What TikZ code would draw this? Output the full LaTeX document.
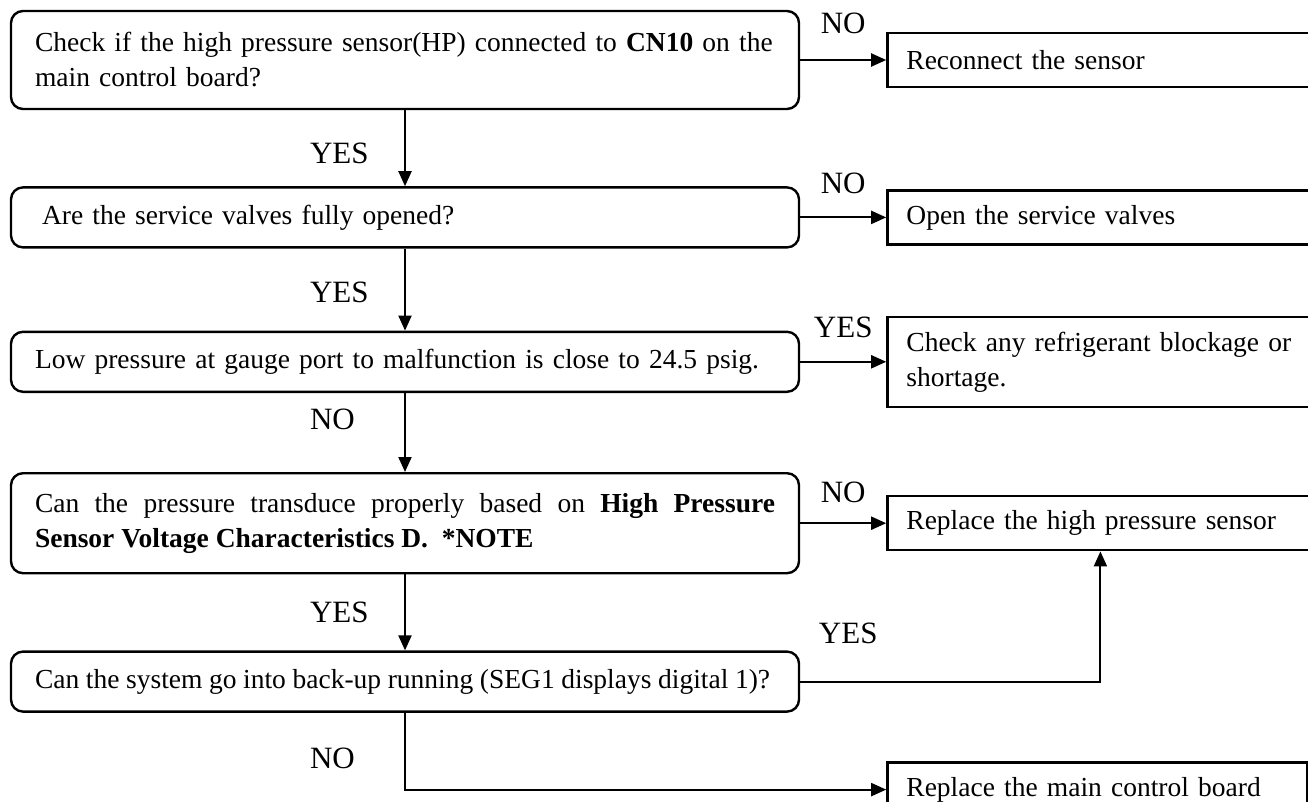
\documentclass[tikz,border=0pt]{standalone}
\usepackage{fontspec}
\setmainfont{Liberation Serif}
\usepackage{xcolor}
\definecolor{ink}{HTML}{000000}
\usepackage{tikz}
\usetikzlibrary{arrows.meta,positioning}
\tikzset{>={Triangle[length=15pt,width=13pt]},
  qbox/.style={draw=ink,line width=2.4pt,rounded corners=12pt,text width=740pt,
    inner xsep=24pt,inner ysep=0pt,align=left,minimum height=60pt,
    font=\fontsize{27.5}{35}\selectfont},
  abox/.style={draw=ink,line width=2.4pt,text width=388pt,inner xsep=19pt,
    inner ysep=0pt,align=left,minimum height=54pt,
    font=\fontsize{27.5}{35}\selectfont},
  flow/.style={->,line width=2pt,ink},
  lbl/.style={font=\fontsize{31}{31}\selectfont,text=ink,inner sep=0pt},
  vlbl/.style={lbl,anchor=west,xshift=-96pt},
  hlbl/.style={lbl,anchor=base,yshift=24pt}}

\begin{document}
\begin{tikzpicture}[x=1pt,y=-1pt]
  \useasboundingbox (0,0) rectangle (1308,802);
  % questions down the left
  \node[qbox,minimum height=98pt] (q1) at (405,60)
    {Check if the high pressure sensor(HP) connected to \textbf{CN10} on the\\main control board?};
  \node[qbox,below=76pt of q1] (q2) {\hspace*{7pt}Are the service valves fully opened?};
  \node[qbox,below=82pt of q2] (q3) {Low pressure at gauge port to malfunction is close to 24.5 psig.};
  \node[qbox,align=justify,minimum height=100pt,below=79pt of q3] (q4)
    {Can the pressure transduce properly based on \textbf{High Pressure}\linebreak
     \textbf{Sensor Voltage Characteristics D.\ \ *NOTE}};
  \node[qbox,below=76pt of q4] (q5)
    {\mbox{\spaceskip=.24em\relax Can the system go into back-up running (SEG1 displays digital 1)?}};
  % actions on the right
  \node[abox,right=86pt of q1] (a1) {Reconnect the sensor};
  \node[abox,right=86pt of q2] (a2) {Open the service valves};
  \node[abox,minimum height=90pt,right=86pt of q3] (a3) {Check any refrigerant blockage or\\shortage.};
  \node[abox,right=86pt of q4] (a4) {Replace the high pressure sensor};
  \node[abox,text width=382pt,below=210pt of a4.south west,anchor=north west] (a5)
    {Replace the main control board};
  % main line
  \draw[flow] (q1)--(q2) node[vlbl,pos=.57] {YES};
  \draw[flow] (q2)--(q3) node[vlbl,pos=.53] {YES};
  \draw[flow] (q3)--(q4) node[vlbl,pos=.33] {NO};
  \draw[flow] (q4)--(q5) node[vlbl,pos=.5] {YES};
  % side branches
  \draw[flow] (q1)--(a1) node[hlbl,midway,yshift=2pt] {NO};
  \draw[flow] (q2)--(a2) node[hlbl,midway] {NO};
  \draw[flow] (q3)--(a3) node[hlbl,midway] {YES};
  \draw[flow] (q4)--(a4) node[hlbl,midway,yshift=-3pt] {NO};
  \draw[flow] (q5.east) -| (a4.south) node[hlbl,pos=.08,yshift=14pt] {YES};
  \draw[flow] (q5.south) |- (a5.west) node[vlbl,pos=.3] {NO};
\end{tikzpicture}
\end{document}
